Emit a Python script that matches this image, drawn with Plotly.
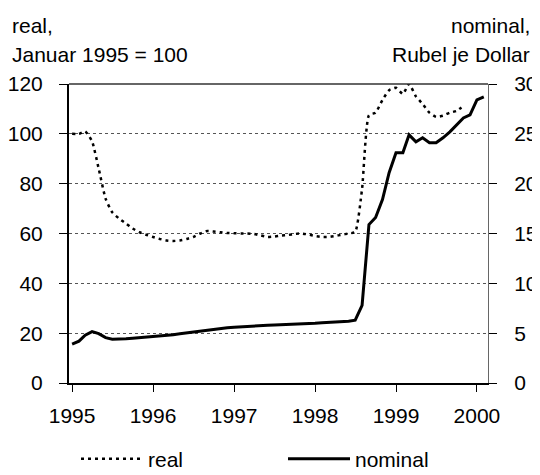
import pandas as pd
import plotly.graph_objects as go

# monthly data, Jan 1995 .. Feb 2000
months = pd.date_range('1995-01-01', '2000-02-01', freq='MS')

real = [100, 100, 101, 97, 86, 74, 68.5, 66, 64, 62, 60.5, 59.5,
        58.6, 57.8, 57.2, 57, 57.2, 57.8, 58.6, 60, 61, 60.8, 60.5, 60.2,
        60.1, 60, 60, 59.8, 59.2, 58.6, 58.8, 59.2, 59.4, 59.8, 60, 59.6,
        59, 58.6, 58.6, 59, 59.5, 60, 60.6, 78, 107.5, 108.5, 113.6, 117.5,
        118.5, 116, 120, 115, 112, 108.5, 106.8, 107.3, 108.5, 109.2, 111.2]

nominal = [3.9, 4.2, 4.8, 5.15, 4.95, 4.55, 4.4, 4.4, 4.45, 4.5, 4.55, 4.6,
           4.65, 4.7, 4.78, 4.85, 4.93, 5.02, 5.12, 5.25, 5.35, 5.42, 5.48, 5.54,
           5.6, 5.65, 5.7, 5.75, 5.78, 5.8, 5.82, 5.84, 5.86, 5.88, 5.9, 5.93,
           6.0, 6.05, 6.08, 6.12, 6.15, 6.2, 6.3, 7.8, 15.9, 16.6, 18.4, 21.1,
           23.1, 23.1, 24.9, 24.2, 24.6, 24.1, 24.1, 24.6, 25.2, 25.9, 26.6, 26.9,
           28.4, 28.7]

years = [1995, 1996, 1997, 1998, 1999, 2000]

FONT = 'Liberation Sans, Arial, sans-serif'
FS = 21
# page body has an 8px margin, so the figure is sized to fill the rest
W, H = 532, 467
L, R, T, B = 61, 52, 76, 92
PW = W - L - R

fig = go.Figure()
fig.add_trace(go.Scatter(x=months[:len(real)], y=real, name='real', mode='lines',
                         line=dict(color='black', width=2.5, dash='3px,4px', shape='spline', smoothing=0.5)))
fig.add_trace(go.Scatter(x=months[:len(nominal)], y=nominal, name='nominal', mode='lines', yaxis='y2',
                         line=dict(color='black', width=3)))

fig.update_layout(
    width=W, height=H,
    margin=dict(l=L, r=R, t=T, b=B, autoexpand=False),
    paper_bgcolor='white', plot_bgcolor='white',
    font=dict(family=FONT, size=FS, color='black'),
    xaxis=dict(type='date', range=['1994-12-18', '2000-02-20'], automargin=False,
               tickvals=[f'{y}-01-01' for y in years], ticktext=[str(y) for y in years],
               showgrid=False, showline=True, linecolor='black', linewidth=2,
               ticks='outside', ticklen=7, tickcolor='black', tickwidth=1,
               ticklabelstandoff=6, zeroline=False),
    yaxis=dict(range=[0, 120], dtick=20, showgrid=True, gridcolor='#555', griddash='dot', gridwidth=1,
               showline=True, linecolor='black', linewidth=2, ticks='outside', ticklen=8, automargin=False,
               tickcolor='black', ticklabelstandoff=12, zeroline=False),
    yaxis2=dict(range=[0, 30], dtick=5, overlaying='y', side='right', showgrid=False, automargin=False,
                showline=True, linecolor='#666', linewidth=1, ticks='outside', ticklen=8,
                tickcolor='black', ticklabelstandoff=13, zeroline=False),
    showlegend=True,
    legend=dict(orientation='h', xref='container', x=68 / W, xanchor='left',
                yref='container', y=16 / H, yanchor='middle',
                entrywidth=130, entrywidthmode='pixels', itemwidth=62,
                font=dict(size=FS), bgcolor='rgba(0,0,0,0)'),
)

# top frame line
fig.add_shape(type='line', xref='paper', yref='paper', x0=0, x1=1, y0=1, y1=1,
              line=dict(color='#333', width=1.5))

fig.add_annotation(text='real,', xref='paper', yref='paper',
                   x=-59 / PW, y=1, xanchor='left', yanchor='middle', yshift=59,
                   showarrow=False, font=dict(size=FS))
fig.add_annotation(text='Januar 1995 = 100', xref='paper', yref='paper',
                   x=-59 / PW, y=1, xanchor='left', yanchor='middle', yshift=30,
                   showarrow=False, font=dict(size=FS))
fig.add_annotation(text='nominal,', xref='paper', yref='paper',
                   x=1 + 44 / PW, y=1, xanchor='right', yanchor='middle', yshift=59,
                   showarrow=False, font=dict(size=FS))
fig.add_annotation(text='Rubel je Dollar', xref='paper', yref='paper',
                   x=1 + 44 / PW, y=1, xanchor='right', yanchor='middle', yshift=30,
                   showarrow=False, font=dict(size=FS))

fig.write_html('out.html')
